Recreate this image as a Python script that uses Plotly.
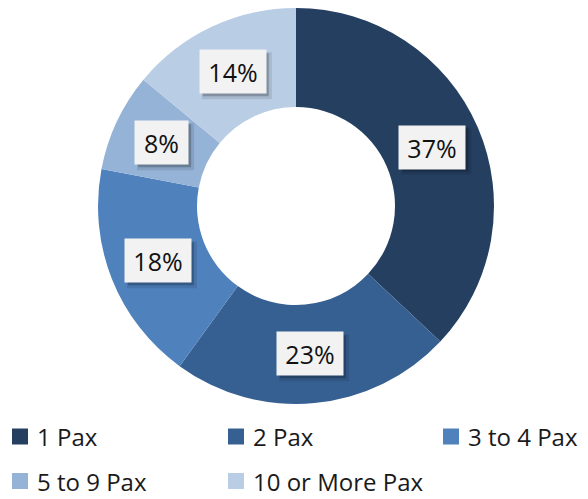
import math
import plotly.graph_objects as go

categories = ["1 Pax", "2 Pax", "3 to 4 Pax", "5 to 9 Pax", "10 or More Pax"]
shares = [37, 23, 18, 8, 14]
colors = ["#243F60", "#376092", "#4F81BD", "#95B3D7", "#B9CDE5"]

W, H = 588, 499
FONT = "Open Sans"

# ring placement in pixels
cx, cy, r_out = 296, 206, 198
hole = 0.5
dom_x = [(cx - r_out) / W, (cx + r_out) / W]
dom_y = [(H - (cy + r_out)) / H, (H - (cy - r_out)) / H]

fig = go.Figure(go.Pie(
    labels=categories,
    values=shares,
    marker=dict(colors=colors, line=dict(width=0)),
    hole=hole,
    sort=False,
    direction="clockwise",
    rotation=0,
    textinfo="none",
    hoverinfo="label+percent",
    domain=dict(x=dom_x, y=dom_y),
    showlegend=False,
))

shapes = []
annotations = []

# value labels: light boxes with a soft drop shadow, centred on each segment
r_mid = r_out * (1 + hole) / 2
total = sum(shares)
cum = 0
for v in shares:
    ang = 2 * math.pi * (cum + v / 2) / total
    cum += v
    ax = (cx + r_mid * math.sin(ang)) / W
    ay = 1 - (cy - r_mid * math.cos(ang)) / H
    label = f"{v}%"
    bw, bh = 13 * len(label) + 27, 43
    for off, alpha, grow in [(4, 0.10, 2), (3, 0.22, 0)]:
        shapes.append(dict(
            type="rect", xref="paper", yref="paper",
            xsizemode="pixel", ysizemode="pixel", xanchor=ax, yanchor=ay,
            x0=-bw / 2 + off - grow, x1=bw / 2 + off + grow,
            y0=-bh / 2 - off - grow, y1=bh / 2 - off + grow,
            fillcolor=f"rgba(0,0,0,{alpha})", line=dict(width=0), layer="above",
        ))
    annotations.append(dict(
        x=ax, y=ay, xref="paper", yref="paper", text=label, showarrow=False,
        xanchor="center", yanchor="middle",
        width=bw, height=bh, borderpad=0, align="center", valign="middle",
        font=dict(family=FONT, size=25, color="#111111"),
        bgcolor="#F2F2F2",
    ))

# legend: three columns, two rows
col_x = [12, 228, 443]
row_y = [436.5, 481]
sq = 16
for i, (name, col) in enumerate(zip(categories, colors)):
    lx = col_x[i % 3]
    ly = row_y[i // 3]
    shapes.append(dict(
        type="rect", xref="paper", yref="paper",
        x0=lx / W, x1=(lx + sq) / W,
        y0=1 - (ly + sq / 2) / H, y1=1 - (ly - sq / 2) / H,
        fillcolor=col, line=dict(width=0),
    ))
    annotations.append(dict(
        x=(lx + sq + 8) / W, y=1 - ly / H, xref="paper", yref="paper",
        xanchor="left", yanchor="middle", text=name, showarrow=False,
        borderpad=0,
        font=dict(family=FONT, size=24, color="#1a1a1a"),
    ))

fig.update_layout(
    width=W, height=H,
    margin=dict(l=0, r=0, t=0, b=0),
    paper_bgcolor="white",
    plot_bgcolor="white",
    shapes=shapes,
    annotations=annotations,
)

fig.write_html("out.html")
